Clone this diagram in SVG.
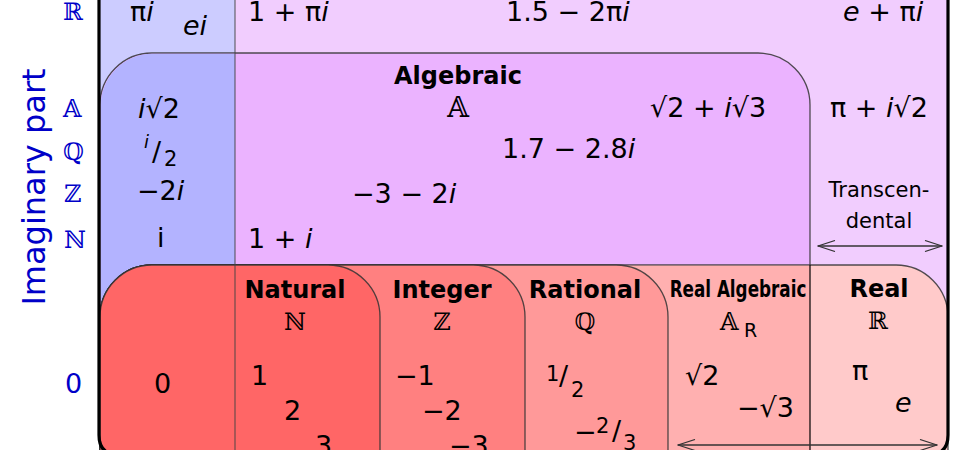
<svg xmlns="http://www.w3.org/2000/svg" width="980" height="450" viewBox="0 0 980 450">
<style>
text{font-family:"DejaVu Sans","Liberation Sans",sans-serif;fill:#000;}
.n{font-size:27px;}
.it{font-style:italic;}
.b{font-size:24px;font-weight:bold;}
.c{text-anchor:middle;}
.ds{font-family:"DejaVu Serif","DejaVu Sans",serif;font-size:24px;}
.ax{fill:#0000c8;font-size:24px;}
.dsx{font-family:"DejaVu Serif","DejaVu Sans",serif;}
.fr{font-size:21px;}
.sl{font-size:27px;}
.box{stroke:#333;stroke-width:1.3;stroke-opacity:0.85;}
.arr{fill:none;stroke:#333;stroke-width:1.3;}
</style>
<defs>
<marker id="ah" viewBox="0 0 19 12" refX="18" refY="6" markerWidth="19" markerHeight="12" markerUnits="userSpaceOnUse" orient="auto-start-reverse">
<path d="M1,0.5 L18,6 L1,11.5" fill="none" stroke="#333" stroke-width="1.2"/>
</marker>
</defs>
<rect width="980" height="450" fill="#fff"/>

<g id="axis">
<text class="ax dsx" x="63" y="20">ℝ</text>
<text class="ax dsx" x="63" y="117">𝔸</text>
<text class="ax dsx" x="63" y="160">ℚ</text>
<text class="ax dsx" x="64" y="202">ℤ</text>
<text class="ax dsx" x="64" y="248">ℕ</text>
<text class="ax" x="65" y="393" style="font-size:27px">0</text>
<text class="ax c" transform="translate(45,187) rotate(-90)" style="font-size:32px">Imaginary part</text>
</g>

<g id="complex">
<rect x="99" y="-10" width="136" height="470" fill="#ccccff"/>
<rect x="235" y="-10" width="713" height="470" fill="#f1cdfe"/>
<text class="n" x="130" y="21">π<tspan class="it">i</tspan></text>
<text class="n it" x="183" y="35">ei</text>
<text class="n" x="248" y="21">1 + π<tspan class="it">i</tspan></text>
<text class="n" x="506" y="21">1.5 − 2π<tspan class="it">i</tspan></text>
<text class="n" x="843" y="21"><tspan class="it">e</tspan> + π<tspan class="it">i</tspan></text>
</g>

<g id="transcendental">
<text class="n" x="830" y="117">π + <tspan class="it">i</tspan>√2</text>
<text class="c" x="879" y="197" style="font-size:21px">Transcen-</text>
<text class="c" x="879" y="228" style="font-size:21px">dental</text>
</g>

<g id="algebraic">
<path class="box" d="M100,105 A52,52 0 0 1 152,53 L758,53 A52,52 0 0 1 810,105 L810,470 L100,470 Z" fill="#ebb3ff"/>
<path d="M100.7,105 A52,52 0 0 1 152,53.7 L235,53.7 L235,470 L100.7,470 Z" fill="#b3b3ff"/>
<text class="b c" x="458" y="84">Algebraic</text>
<text class="ds c" x="458" y="117" style="font-size:28px">𝔸</text>
<text class="n" x="138" y="118"><tspan class="it">i</tspan>√2</text>
<text x="144" y="148" class="it" style="font-size:18px">i</text>
<text class="sl" x="152" y="160.5">/</text>
<text class="fr" x="164" y="166">2</text>
<text class="n" x="650" y="117">√2 + <tspan class="it">i</tspan>√3</text>
<text class="n" x="502" y="158">1.7 − 2.8<tspan class="it">i</tspan></text>
<text class="n" x="137" y="200">−2<tspan class="it">i</tspan></text>
<text class="n" x="352" y="203">−3 − 2<tspan class="it">i</tspan></text>
<text class="n" x="157" y="247">i</text>
<text class="n" x="248" y="248">1 + <tspan class="it">i</tspan></text>
</g>

<g id="real">
<path class="box" d="M100,317 A52,52 0 0 1 152,265 L896,265 A52,52 0 0 1 948,317 L948,470 L100,470 Z" fill="#ffcaca"/>
<text class="b c" x="879" y="297">Real</text>
<text class="ds c" x="878" y="329">ℝ</text>
<text class="n" x="852" y="380">π</text>
<text class="n it" x="895" y="412">e</text>
</g>

<g id="real-algebraic">
<path d="M100.7,317 A52,52 0 0 1 152,265.7 L810,265.7 L810,470 L100.7,470 Z" fill="#ffb0b0"/>
<line x1="810" y1="265" x2="810" y2="460" stroke="#000" stroke-width="1.2"/>
<text class="b c" transform="translate(738,297) scale(0.73,1)" style="font-size:23px">Real Algebraic</text>
<text class="ds" x="720" y="330">𝔸</text>
<text x="744" y="337" style="font-size:19px">R</text>
<text class="n" x="685" y="385">√2</text>
<text class="n" x="737" y="417">−√3</text>
</g>

<g id="rational">
<path class="box" d="M100,317 A52,52 0 0 1 152,265 L616,265 A52,52 0 0 1 668,317 L668,470 L100,470 Z" fill="#ff9999"/>
<text class="b c" x="585" y="298">Rational</text>
<text class="ds c" x="585" y="330">ℚ</text>
<text class="fr" x="546" y="381">1</text>
<text class="sl" x="559" y="384.5">/</text>
<text class="fr" x="571" y="397">2</text>
<text class="n" x="574" y="441">−</text>
<text class="fr" x="596" y="433">2</text>
<text class="sl" x="612" y="439.5">/</text>
<text class="fr" x="623" y="450">3</text>
</g>

<g id="integer">
<path class="box" d="M100,317 A52,52 0 0 1 152,265 L473,265 A52,52 0 0 1 525,317 L525,470 L100,470 Z" fill="#ff8080"/>
<text class="b c" x="442" y="298">Integer</text>
<text class="ds c" x="442" y="330">ℤ</text>
<text class="n" x="395" y="385">−1</text>
<text class="n" x="422" y="420">−2</text>
<text class="n" x="449" y="455">−3</text>
</g>

<g id="natural">
<path class="box" d="M100,317 A52,52 0 0 1 152,265 L328,265 A52,52 0 0 1 380,317 L380,470 L100,470 Z" fill="#ff6666"/>
<text class="b c" x="295" y="298">Natural</text>
<text class="ds c" x="295" y="330">ℕ</text>
<text class="n" x="251" y="385">1</text>
<text class="n" x="284" y="420">2</text>
<text class="n" x="315" y="455">3</text>
</g>

<g id="zero">
<text class="n" x="154" y="393">0</text>
</g>

<line x1="235" y1="-5" x2="235" y2="460" stroke="#444" stroke-width="1.1" stroke-opacity="0.85"/>

<g id="frame">
<path d="M99,-20 L99,435 Q99,455 119,455 L928,455 Q948,455 948,435 L948,-20" fill="none" stroke="#000" stroke-width="3.2"/>
</g>

<g id="connectors">
<line class="arr" x1="818" y1="246" x2="942" y2="246" marker-start="url(#ah)" marker-end="url(#ah)"/>
<line class="arr" x1="678" y1="445" x2="937" y2="445" marker-start="url(#ah)" marker-end="url(#ah)"/>
</g>
</svg>
